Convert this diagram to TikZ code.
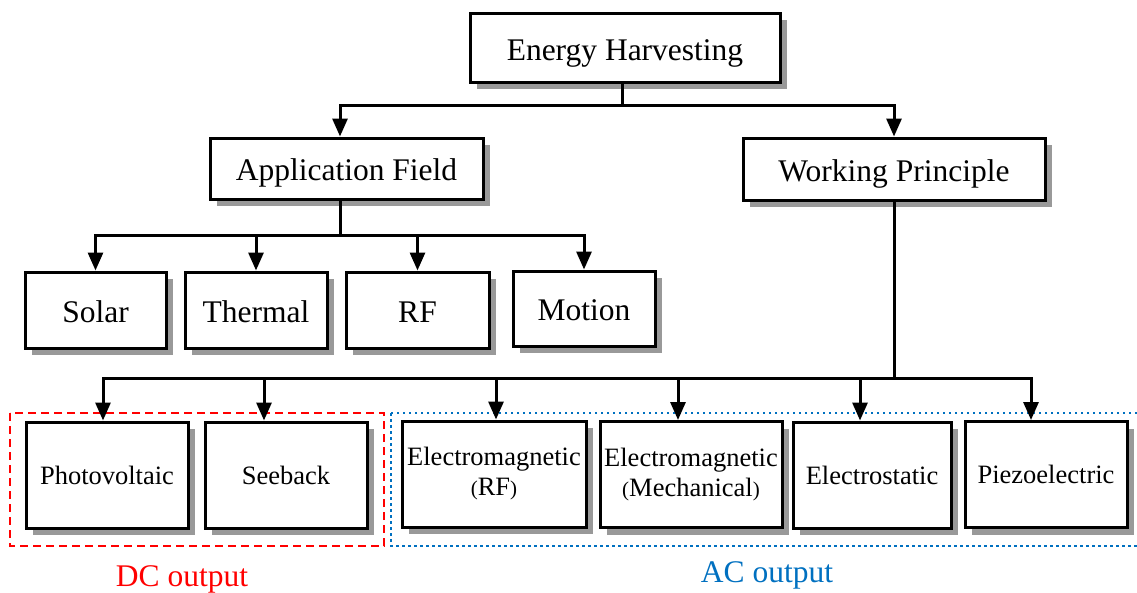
\documentclass[tikz,border=0pt]{standalone}
\usepackage{fontspec}
\setmainfont{Liberation Serif}
\usetikzlibrary{arrows.meta, shadows}
\definecolor{dcRed}{HTML}{FF0000}
\definecolor{acBlue}{HTML}{0070C0}
\definecolor{shadowGray}{HTML}{999999}
\newcommand{\bigtxt}{\fontsize{31.5}{36}\selectfont}
\newcommand{\lowtxt}{\fontsize{26.5}{32}\selectfont}
\newcommand{\parsz}[1]{{\fontsize{21}{24}\selectfont #1}}

\tikzset{
	box/.style={draw=black, fill=white, line width=3pt, inner sep=2pt, align=center,
		drop shadow={shadow xshift=7pt, shadow yshift=-7pt, fill=shadowGray, opacity=1}},
	bigbox/.style={box, font=\bigtxt, text height=24pt, text depth=0pt},
	lowbox/.style={box, font=\lowtxt, minimum height=106pt},
	link/.style={line width=3pt},
	arr/.style={link, -{Triangle[width=15pt,length=18pt]}}
}

\begin{document}
\begin{tikzpicture}[x=1pt, y=-1pt]
	\useasboundingbox (0,0) rectangle (1137,592);
	\draw[dcRed, line width=2pt, dash pattern=on 8pt off 5pt] (10,413) rectangle (384,546);
	\draw[acBlue, line width=2.5pt, dash pattern=on 2.5pt off 3.5pt] (391,413) rectangle (1150,546);

	\node[bigbox, minimum width=310pt, minimum height=69pt, text height=26pt] (eh) at (625,47.5) {Energy Harvesting};
	\node[bigbox, minimum width=273pt, minimum height=61pt] (af) at (346.5,168.5) {Application Field};
	\node[bigbox, minimum width=302pt, minimum height=62pt] (wp) at (894,169) {Working Principle};

	\node[bigbox, minimum width=141pt, minimum height=76pt] (solar) at (95.5,310) {Solar};
	\node[bigbox, minimum width=142pt, minimum height=76pt] (thermal) at (256,310) {Thermal};
	\node[bigbox, minimum width=143pt, minimum height=76pt] (rf) at (417.5,310) {RF};
	\node[bigbox, minimum width=142pt, minimum height=75pt] (motion) at (584,308.5) {Motion};

	\node[lowbox, minimum width=162pt] (pv) at (107,475) {Photovoltaic};
	\node[lowbox, minimum width=162pt] (sb) at (286,475) {Seeback};
	\node[lowbox, minimum width=184pt] (emrf) at (494,474) {Electromagnetic\\[-2pt]\parsz{(}RF\parsz{)}};
	\node[lowbox, minimum width=182pt] (emme) at (691,474.5) {Electromagnetic\\[-2pt]\parsz{(}Mechanical\parsz{)}};
	\node[lowbox, minimum width=158pt] (es) at (872,475) {Electrostatic};
	\node[lowbox, minimum width=162pt] (pz) at (1046,474.5) {Piezoelectric};

	\node[text=dcRed, font=\bigtxt] (dclabel) at (182,579) {DC output};
	\node[text=acBlue, font=\bigtxt] (aclabel) at (767,575) {AC output};

	\draw[link] (622,0 |- eh.south) -- ++(0,22) coordinate (j1);
	\draw[arr] (j1) -| (340,0 |- af.north);
	\draw[arr] (j1) -| (wp.north);

	\draw[link] (340,0 |- af.south) -- ++(0,35) coordinate (j2);
	\foreach \n in {solar, thermal, rf, motion}
		\draw[arr] (j2) -| (\n.north);

	\draw[link] (wp.south) -- ++(0,177) coordinate (j3);
	\foreach \n/\x in {pv/103, sb/264, emrf/496, emme/678, es/860, pz/1031}
		\draw[arr] (j3) -| (\x,0 |- \n.north);
\end{tikzpicture}
\end{document}
